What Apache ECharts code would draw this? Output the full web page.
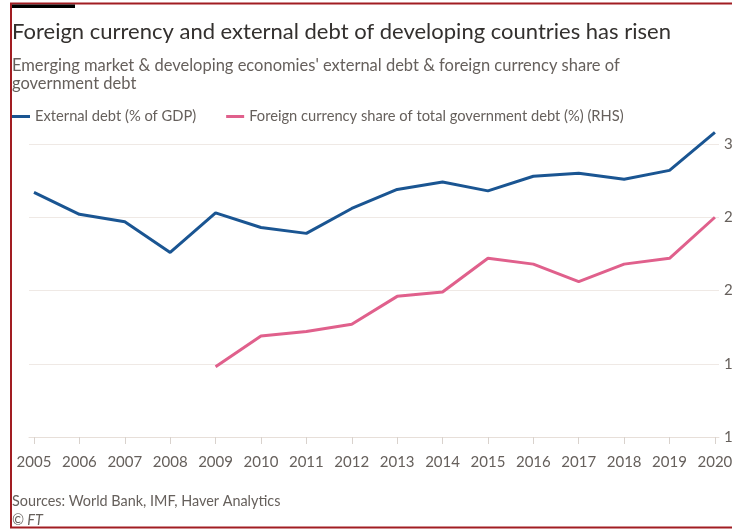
<!DOCTYPE html>
<html>
<head>
<meta charset="utf-8">
<script src="https://cdn.jsdelivr.net/npm/echarts@6/dist/echarts.min.js"></script>
<style>
html,body{margin:0;padding:0;background:#fff;}
#chart{width:732px;height:530px;}
</style>
</head>
<body>
<div id="chart"></div>
<script>
const years = [2005,2006,2007,2008,2009,2010,2011,2012,2013,2014,2015,2016,2017,2018,2019,2020];
const externalDebt = [26.7,25.2,24.7,22.6,25.3,24.3,23.9,25.6,26.9,27.4,26.8,27.8,28.0,27.6,28.2,30.8];
const fxShare = [null,null,null,null,14.8,16.9,17.2,17.7,19.6,19.9,22.2,21.8,20.6,21.8,22.2,25.0];
const yTicks = [10,15,20,25,30];

const titleText = 'Foreign currency and external debt of developing countries has risen';
const subText = "Emerging market & developing economies' external debt & foreign currency share of\ngovernment debt";
const seriesNames = ['External debt (% of GDP)', 'Foreign currency share of total government debt (%) (RHS)'];

const FONT = 'Lato';
const chart = echarts.init(document.getElementById('chart'), null, {renderer:'canvas'});
chart.setOption({
  animation:false,
  backgroundColor:'#fff',
  textStyle:{fontFamily:FONT},
  title:[
    {text:titleText, left:7, top:16, padding:5,
     textStyle:{fontFamily:FONT,fontSize:22,fontWeight:'normal',color:'#33302e',lineHeight:22}},
    {text:subText, left:7, top:51, padding:5,
     textStyle:{fontFamily:FONT,fontSize:16.5,fontWeight:'normal',color:'#66605c',lineHeight:18.5}}
  ],
  legend:{
    left:7, top:104,
    itemWidth:18, itemHeight:3, itemGap:30,
    icon:'rect',
    textStyle:{fontFamily:FONT,fontSize:14.7,color:'#66605c'},
    data:seriesNames
  },
  grid:{left:29, right:13, top:144, bottom:93, outerBoundsMode:'none', containLabel:false},
  xAxis:{
    type:'value',
    min:2004.89, max:2020.09,
    axisLine:{show:true,lineStyle:{color:'#e7dfd9',width:1}},
    axisTick:{show:true,length:7,lineStyle:{color:'#d9d2cd'},customValues:years},
    axisLabel:{fontFamily:FONT,fontSize:15,color:'#66605c',margin:18,customValues:years,formatter:v=>String(v)},
    splitLine:{show:false}
  },
  yAxis:{
    type:'value',
    position:'right',
    min:10, max:30, interval:5,
    axisLine:{show:false},
    axisTick:{show:false},
    axisLabel:{fontFamily:FONT,fontSize:15,color:'#66605c',margin:5,customValues:yTicks},
    splitLine:{show:true,lineStyle:{color:'#efe9e5',width:1}}
  },
  series:[
    {name:seriesNames[0],type:'line',clip:false,data:years.map((y,i)=>[y,externalDebt[i]]),
     showSymbol:false,symbol:'none',lineStyle:{color:'#1a5592',width:3},itemStyle:{color:'#1a5592'}},
    {name:seriesNames[1],type:'line',clip:false,data:years.map((y,i)=>[y,fxShare[i]]),
     showSymbol:false,symbol:'none',lineStyle:{color:'#e0608c',width:3},itemStyle:{color:'#e0608c'}}
  ],
  graphic:[
    {type:'rect',shape:{x:11,y:3.5,width:760,height:524},style:{fill:'none',stroke:'#a11d22',lineWidth:2},silent:true},
    {type:'rect',shape:{x:12,y:4.5,width:63,height:3.5},style:{fill:'#000'},silent:true},
    {type:'text',left:12,top:494,style:{text:'Sources: World Bank, IMF, Haver Analytics',fontFamily:FONT,fontSize:14.4,fill:'#66605c'}},
    {type:'text',left:12,top:513,style:{text:'© FT',fontFamily:FONT,fontSize:14.4,fontStyle:'italic',fill:'#66605c'}}
  ]
});
</script>
</body>
</html>
